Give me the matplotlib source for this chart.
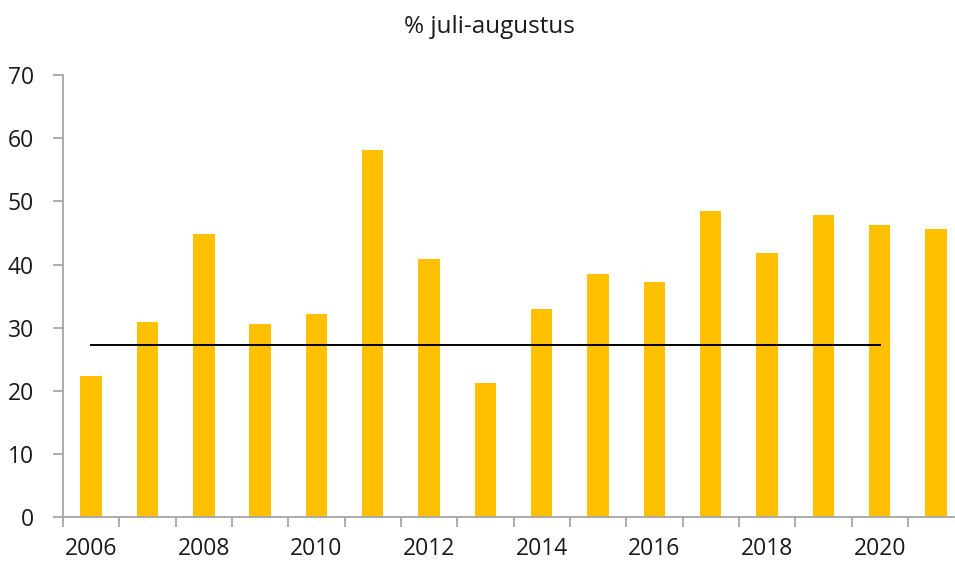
import matplotlib
matplotlib.use('Agg')
import matplotlib.pyplot as plt
import numpy as np

# Data
years = [2006, 2007, 2008, 2009, 2010, 2011, 2012, 2013,
         2014, 2015, 2016, 2017, 2018, 2019, 2020, 2021]
values = [22.3, 30.9, 44.8, 30.6, 32.2, 58.1, 40.9, 21.3,
          32.9, 38.5, 37.2, 48.5, 41.9, 47.9, 46.2, 45.6]
avg_value = 27.2          # average line 2006-2020
avg_years = years[:15]

plt.rcParams['font.family'] = ['Open Sans', 'DejaVu Sans']

fig = plt.figure(figsize=(9.55, 5.67), dpi=100)
ax = fig.add_axes([0.066, 0.088, 0.9436, 0.7795])

x = np.arange(len(years))
ax.bar(x, values, width=0.38, color='#FFC000', zorder=2)

# average line from first to 2020 bar centre
ax.plot([x[0], x[len(avg_years) - 1]], [avg_value, avg_value], color='black', lw=1.4, zorder=3)

ax.set_xlim(-0.5, len(years) - 0.5)
ax.set_ylim(0, 70)
ax.set_yticks(range(0, 71, 10))

# category labels at even years, tick marks between categories
ax.set_xticks(x[::2])
ax.set_xticklabels([str(y) for y in years[::2]])
ax.set_xticks(np.arange(-0.5, len(years), 1), minor=True)
ax.tick_params(axis='x', which='major', length=0, pad=14)
ax.tick_params(axis='x', which='minor', length=7, width=1.3, color='#A6A6A6')
ax.tick_params(axis='y', length=7, width=1.3, color='#A6A6A6', pad=14)
ax.tick_params(labelsize=16.5, labelcolor='#1a1a1a')

for side in ['top', 'right']:
    ax.spines[side].set_visible(False)
for side in ['left', 'bottom']:
    ax.spines[side].set_color('#A6A6A6')
    ax.spines[side].set_linewidth(1.3)

fig.text(0.513, 0.952, '% juli-augustus', ha='center', va='center', fontsize=17.5, color='#1a1a1a')

plt.savefig('out.png', dpi=100)
